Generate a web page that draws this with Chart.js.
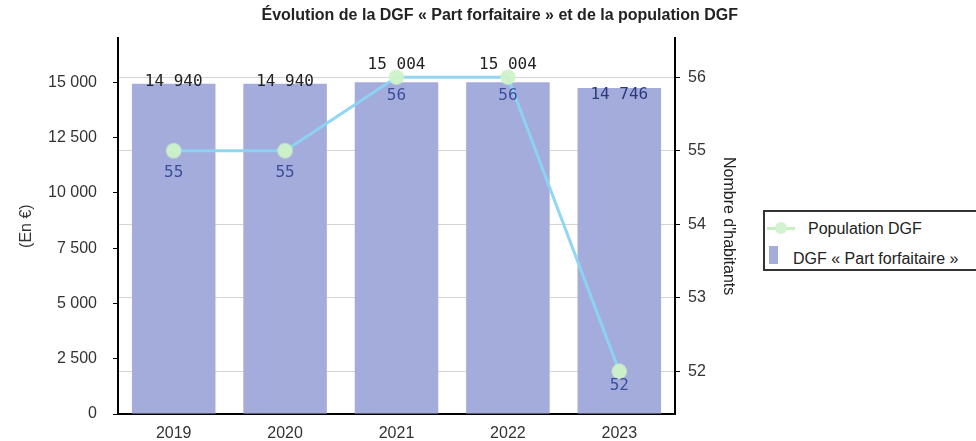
<!DOCTYPE html>
<html lang="fr">
<head>
<meta charset="utf-8">
<title>Évolution de la DGF</title>
<script src="https://cdn.jsdelivr.net/npm/chart.js@4.4.1/dist/chart.umd.min.js"></script>
<style>
  html, body { margin: 0; padding: 0; background: #fff; }
  #wrap { position: relative; width: 976px; height: 441px; overflow: hidden; }
  #legende {
    position: absolute; left: 763px; top: 210px; width: 220px; height: 57px;
    border: 2px solid #333; background: #fff;
    font: 16px "Liberation Sans", Arial, sans-serif; color: #222;
  }
  #legende .item { position: absolute; white-space: nowrap; line-height: 19px; }
  #legende .trait { position: absolute; left: 2px; top: 15px; width: 28px; height: 3px; background: #c6efc2; }
  #legende .rond { position: absolute; left: 10px; top: 10px; width: 12px; height: 12px; border-radius: 50%; background: #d2f3cf; }
  #legende .carre { position: absolute; left: 4px; top: 34px; width: 9px; height: 18px; background: #a4acdc; }
</style>
</head>
<body>
<div id="wrap">
  <canvas id="dgfChart" width="976" height="441"></canvas>
  <div id="legende">
    <span class="trait"></span><span class="rond"></span>
    <span class="item" style="left:43px; top:7px;">Population DGF</span>
    <span class="carre"></span>
    <span class="item" style="left:28px; top:37px;">DGF « Part forfaitaire »</span>
  </div>
</div>
<script>
// Données
const annees = ['2019', '2020', '2021', '2022', '2023'];
const dgfPartForfaitaire = [14940, 14940, 15004, 15004, 14746];
const populationDgf = [55, 55, 56, 56, 52];
const ticksEuros = [0, 2500, 5000, 7500, 10000, 12500, 15000];
const ticksHabitants = [52, 53, 54, 55, 56];

// Placement des étiquettes (style seulement)
const decalBarres = [-2, -2, -17, -17, 7];
const couleurBarres = ['#222', '#222', '#222', '#222', '#2c3a78'];
const decalPoints = [22, 22, 19, 19, 14];

const police = '"Liberation Sans", Arial, sans-serif';

function fmt(v) {
    return String(v).replace(/\B(?=(\d{3})+(?!\d))/g, ' ');
}

// Étiquettes de valeurs au-dessus des barres et sous les points
const etiquettes = {
    id: 'etiquettes',
    afterDatasetsDraw(chart) {
        const ctx = chart.ctx;
        ctx.save();
        ctx.font = '16px "DejaVu Sans Mono", monospace';
        ctx.textAlign = 'center';
        ctx.textBaseline = 'middle';
        const barres = chart.getDatasetMeta(1);
        barres.data.forEach((el, i) => {
            ctx.fillStyle = couleurBarres[i];
            ctx.fillText(fmt(dgfPartForfaitaire[i]), el.x, el.y + decalBarres[i]);
        });
        const points = chart.getDatasetMeta(0);
        ctx.fillStyle = '#3c4f9c';
        points.data.forEach((el, i) => {
            ctx.fillText(String(populationDgf[i]), el.x, el.y + decalPoints[i]);
        });
        ctx.restore();
    }
};

const ctx = document.getElementById('dgfChart').getContext('2d');

const dgfChart = new Chart(ctx, {
    type: 'bar',
    data: {
        labels: annees,
        datasets: [{
            type: 'line',
            label: 'Population DGF',
            data: populationDgf,
            yAxisID: 'y1',
            borderColor: 'rgba(140, 212, 242, 0.95)',
            borderWidth: 3,
            pointRadius: 7,
            pointBackgroundColor: 'rgba(205, 242, 200, 0.95)',
            pointBorderColor: 'rgba(205, 242, 200, 0.6)',
            pointBorderWidth: 2,
            tension: 0,
            order: 1
        }, {
            label: 'DGF « Part forfaitaire »',
            data: dgfPartForfaitaire,
            yAxisID: 'y',
            backgroundColor: '#a4acdc',
            categoryPercentage: 1,
            barPercentage: 0.75,
            order: 2
        }]
    },
    options: {
        responsive: false,
        animation: false,
        layout: {
            padding: { left: 0, right: 238, top: 0, bottom: 0 }
        },
        scales: {
            x: {
                grid: { display: false },
                border: { color: '#000', width: 2 },
                ticks: { color: '#333', padding: 2, font: { family: police, size: 16 } },
                afterFit: (axis) => { axis.height = 27; }
            },
            y: {
                position: 'left',
                min: 0,
                max: 17000,
                afterBuildTicks: (axis) => { axis.ticks = ticksEuros.map(v => ({ value: v })); },
                afterFit: (axis) => { axis.width = 118; },
                grid: { drawOnChartArea: false, color: '#000', tickLength: 5 },
                border: { color: '#000', width: 2 },
                ticks: {
                    color: '#333',
                    padding: 16,
                    font: { family: police, size: 16 },
                    callback: (v) => fmt(v)
                },
                title: {
                    display: true,
                    text: '(En €)',
                    color: '#333',
                    font: { family: police, size: 16 },
                    padding: { top: 17, bottom: 12 }
                }
            },
            y1: {
                position: 'right',
                min: 51.42,
                max: 56.53,
                afterBuildTicks: (axis) => { axis.ticks = ticksHabitants.map(v => ({ value: v })); },
                afterFit: (axis) => { axis.width = 63; },
                grid: { color: '#d4d4d4', tickColor: '#000', tickLength: 5 },
                border: { color: '#000', width: 2 },
                ticks: { color: '#333', padding: 8, font: { family: police, size: 16 } },
                title: {
                    display: true,
                    text: "Nombre d'habitants",
                    color: '#222',
                    font: { family: police, size: 16 },
                    padding: { top: 0, bottom: 12 }
                }
            }
        },
        plugins: {
            legend: { display: false },
            tooltip: { enabled: false },
            title: {
                display: true,
                align: 'end',
                text: 'Évolution de la DGF « Part forfaitaire » et de la population DGF',
                color: '#222',
                font: { family: police, size: 16, weight: 'bold' },
                padding: { top: 6, bottom: 13 }
            }
        }
    },
    plugins: [etiquettes]
});
</script>
</body>
</html>
